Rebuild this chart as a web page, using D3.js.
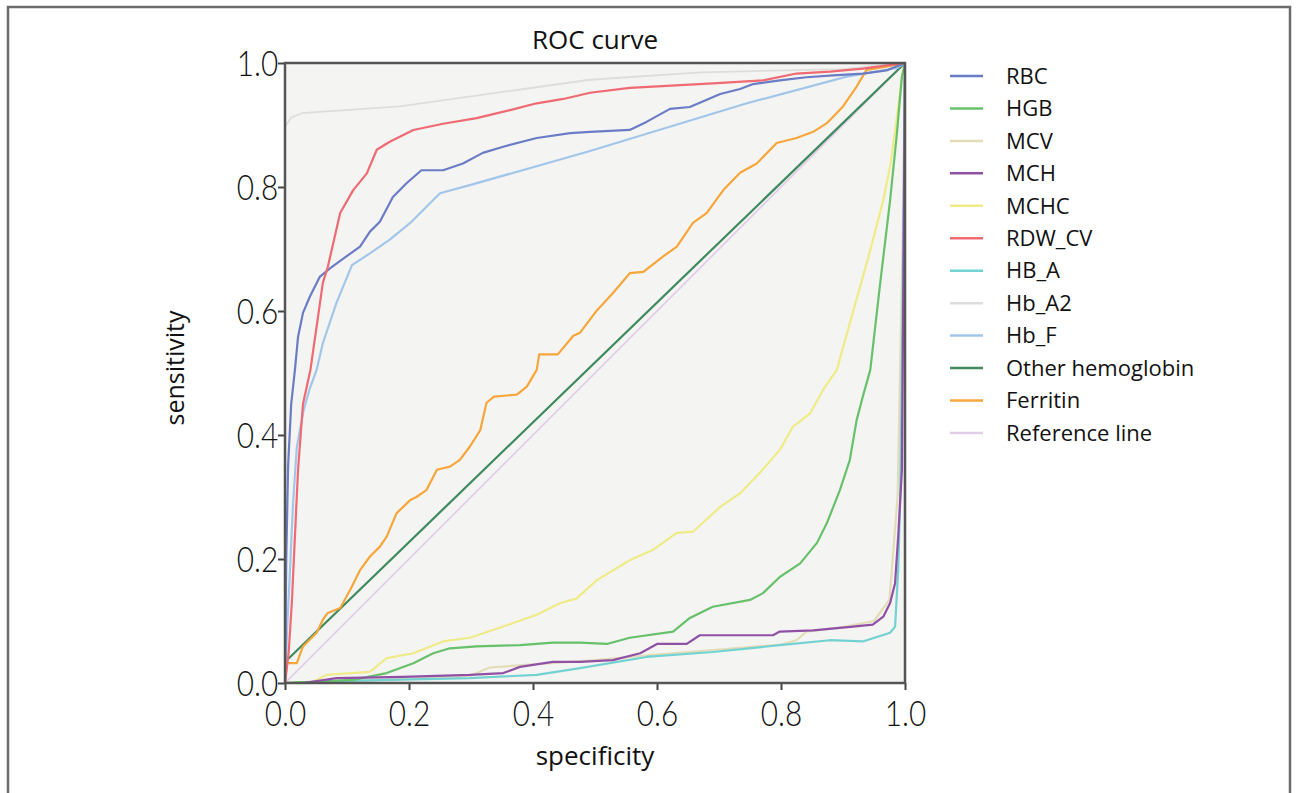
<!DOCTYPE html>
<html>
<head>
<meta charset="utf-8">
<script src="https://cdn.jsdelivr.net/npm/d3@7"></script>
<style>
  body { margin: 0; background: #fff; }
  .tick text { font-family: Lato, "DejaVu Sans", sans-serif; font-weight: 300; }
</style>
</head>
<body>
<script>
// series names, in legend order
var seriesNames = ["RBC", "HGB", "MCV", "MCH", "MCHC", "RDW_CV", "HB_A", "Hb_A2", "Hb_F", "Other hemoglobin", "Ferritin", "Reference line"];
var seriesColors = ["#6a7cc6", "#67c06a", "#e2dcb8", "#9050a6", "#efeb88", "#ef6a72", "#72d2d2", "#dedddd", "#a2c6ea", "#3f8a5e", "#f6a63a", "#e2cde8"];

// [1 - specificity axis value, sensitivity]
var rbc = [[0,0],[0.002,0.2],[0.005,0.35],[0.01,0.45],[0.016,0.505],[0.021,0.558],[0.029,0.597],[0.04,0.623],[0.056,0.655],[0.073,0.669],[0.099,0.688],[0.121,0.704],[0.137,0.728],[0.153,0.744],[0.174,0.784],[0.196,0.806],[0.22,0.827],[0.255,0.827],[0.287,0.838],[0.319,0.855],[0.352,0.865],[0.406,0.879],[0.46,0.887],[0.492,0.889],[0.556,0.892],[0.583,0.905],[0.621,0.926],[0.653,0.929],[0.702,0.95],[0.734,0.958],[0.755,0.966],[0.798,0.972],[0.841,0.977],[0.884,0.98],[0.932,0.983],[0.97,0.988],[1,1]];
var hgb = [[0,0],[0.11,0.005],[0.164,0.016],[0.207,0.032],[0.239,0.048],[0.266,0.056],[0.309,0.059],[0.379,0.061],[0.432,0.065],[0.476,0.065],[0.519,0.063],[0.556,0.073],[0.626,0.083],[0.653,0.105],[0.69,0.123],[0.75,0.134],[0.771,0.145],[0.798,0.171],[0.831,0.193],[0.858,0.226],[0.874,0.258],[0.895,0.311],[0.911,0.36],[0.922,0.424],[0.932,0.462],[0.944,0.505],[0.96,0.645],[0.976,0.779],[0.987,0.887],[0.995,0.978],[1,1]];
var mcv = [[0,0],[0.1,0.003],[0.2,0.007],[0.3,0.012],[0.33,0.025],[0.4,0.03],[0.5,0.037],[0.6,0.046],[0.7,0.054],[0.8,0.062],[0.825,0.069],[0.841,0.083],[0.9,0.09],[0.95,0.1],[0.975,0.135],[0.988,0.3],[0.996,0.7],[1,1]];
var mch = [[0,0],[0.03,0],[0.083,0.008],[0.19,0.01],[0.298,0.013],[0.352,0.016],[0.379,0.026],[0.432,0.034],[0.476,0.034],[0.529,0.037],[0.573,0.048],[0.6,0.063],[0.648,0.063],[0.669,0.077],[0.787,0.077],[0.798,0.083],[0.852,0.085],[0.916,0.091],[0.948,0.094],[0.965,0.107],[0.976,0.129],[0.984,0.161],[0.989,0.236],[0.995,0.344],[0.997,0.6],[1,1]];
var mchc = [[0,0],[0.045,0.002],[0.067,0.013],[0.137,0.018],[0.164,0.04],[0.207,0.048],[0.255,0.067],[0.298,0.073],[0.352,0.091],[0.406,0.11],[0.444,0.129],[0.47,0.136],[0.503,0.166],[0.556,0.198],[0.594,0.215],[0.632,0.242],[0.658,0.244],[0.702,0.284],[0.734,0.306],[0.766,0.339],[0.798,0.376],[0.819,0.413],[0.847,0.435],[0.868,0.473],[0.89,0.505],[0.944,0.698],[0.965,0.779],[0.976,0.833],[0.987,0.913],[0.995,0.978],[1,1]];
var rdwCv = [[0,0],[0.006,0.05],[0.011,0.129],[0.021,0.343],[0.029,0.45],[0.041,0.505],[0.061,0.645],[0.069,0.671],[0.089,0.758],[0.11,0.795],[0.132,0.822],[0.148,0.86],[0.169,0.873],[0.207,0.892],[0.255,0.902],[0.309,0.911],[0.363,0.924],[0.406,0.935],[0.449,0.942],[0.492,0.952],[0.556,0.96],[0.69,0.967],[0.771,0.972],[0.825,0.983],[0.879,0.986],[0.932,0.991],[1,1]];
var hbA = [[0,0],[0.083,0.003],[0.298,0.008],[0.406,0.013],[0.476,0.024],[0.583,0.042],[0.69,0.05],[0.798,0.061],[0.879,0.069],[0.932,0.067],[0.976,0.081],[0.984,0.091],[0.989,0.182],[0.992,0.29],[0.995,0.5],[1,1]];
var hbA2 = [[0,0.897],[0.01,0.912],[0.027,0.919],[0.185,0.93],[0.492,0.973],[0.67,0.985],[0.9,0.99],[1,1]];
var hbF = [[0,0],[0.004,0.1],[0.008,0.18],[0.013,0.29],[0.019,0.38],[0.03,0.44],[0.04,0.475],[0.051,0.505],[0.061,0.548],[0.083,0.613],[0.108,0.674],[0.137,0.693],[0.169,0.715],[0.202,0.742],[0.223,0.763],[0.25,0.79],[0.298,0.803],[0.492,0.858],[0.745,0.935],[0.906,0.978],[0.987,0.992],[1,1]];
var otherHb = [[0,0],[0,0.034],[1,1]];
var ferritin = [[0,0],[0.003,0.032],[0.019,0.032],[0.029,0.059],[0.035,0.065],[0.051,0.081],[0.061,0.102],[0.069,0.113],[0.089,0.121],[0.105,0.15],[0.121,0.182],[0.137,0.204],[0.153,0.22],[0.164,0.236],[0.18,0.274],[0.202,0.295],[0.212,0.3],[0.228,0.311],[0.245,0.344],[0.266,0.349],[0.282,0.36],[0.298,0.381],[0.315,0.408],[0.325,0.452],[0.337,0.462],[0.374,0.465],[0.39,0.478],[0.406,0.505],[0.41,0.53],[0.44,0.53],[0.465,0.56],[0.476,0.565],[0.503,0.601],[0.529,0.629],[0.556,0.661],[0.578,0.663],[0.61,0.688],[0.632,0.704],[0.658,0.742],[0.68,0.758],[0.707,0.795],[0.734,0.823],[0.761,0.838],[0.793,0.871],[0.825,0.879],[0.852,0.889],[0.874,0.903],[0.9,0.93],[0.922,0.962],[0.938,0.989],[0.97,0.994],[1,1]];
var refLine = [[0,0],[1,1]];

var seriesData = [rbc, hgb, mcv, mch, mchc, rdwCv, hbA, hbA2, hbF, otherHb, ferritin, refLine];
var tickValues = [0, 0.2, 0.4, 0.6, 0.8, 1.0];

var w = 1297;
var h = 793;

var svg = d3.select("body")
    .append("svg")
    .attr("width", w)
    .attr("height", h);

// outer frame (bottom edge runs off the picture)
svg.append("path")
    .attr("d", "M8,800 L8,7 L1290,7 L1290,800")
    .attr("fill", "none")
    .attr("stroke", "#6b6b6b")
    .attr("stroke-width", 2.5);

var x = d3.scaleLinear().domain([0, 1]).range([285, 905]);
var y = d3.scaleLinear().domain([0, 1]).range([683, 63]);

// plot background
svg.append("rect")
    .attr("x", x(0))
    .attr("y", y(1))
    .attr("width", x(1) - x(0))
    .attr("height", y(0) - y(1))
    .style("fill", "#f4f4f2");

svg.append("clipPath").attr("id", "plotclip")
  .append("rect")
    .attr("x", x(0))
    .attr("y", y(1) - 1)
    .attr("width", x(1) - x(0))
    .attr("height", y(0) - y(1) + 1);

var line = d3.line()
    .x(function(d){ return x(d[0]); })
    .y(function(d){ return y(d[1]); });

// draw the light lines first, the strong ones on top
var drawOrder = [11, 7, 2, 9, 6, 4, 1, 3, 8, 10, 0, 5];
svg.append("g")
    .attr("clip-path", "url(#plotclip)")
  .selectAll(".roc")
    .data(drawOrder)
    .enter()
    .append("path")
    .attr("class", "roc")
    .attr("d", function(i){ return line(seriesData[i]); })
    .attr("fill", "none")
    .attr("stroke", function(i){ return seriesColors[i]; })
    .attr("stroke-width", function(i){ return (i === 7 || i === 11) ? 1.8 : 2.2; })
    .attr("stroke-linejoin", "round");

// axes
var xAxis = svg.append("g")
    .attr("transform", "translate(0," + y(0) + ")")
    .call(d3.axisBottom(x).tickValues(tickValues).tickFormat(d3.format(".1f")).tickSize(7).tickSizeOuter(0));
var yAxis = svg.append("g")
    .attr("transform", "translate(" + x(0) + ",0)")
    .call(d3.axisLeft(y).tickValues(tickValues).tickFormat(d3.format(".1f")).tickSize(7).tickSizeOuter(0));

[xAxis, yAxis].forEach(function(g){
  g.select(".domain").remove();
  g.selectAll(".tick line").attr("stroke", "#444").attr("stroke-width", 2);
  // narrow, light digits like the original
  g.selectAll(".tick text").attr("fill", "#111").style("font-size", "35px").attr("transform", "scale(0.85,1)");
});
xAxis.selectAll(".tick text").attr("dy", "0.95em").attr("y", 10);
yAxis.selectAll(".tick text").attr("x", -8).attr("dy", "0.36em");

// plot frame
svg.append("rect")
    .attr("x", x(0))
    .attr("y", y(1))
    .attr("width", x(1) - x(0))
    .attr("height", y(0) - y(1))
    .attr("fill", "none")
    .attr("stroke", "#555")
    .attr("stroke-width", 2.5);

var labelFont = "'Open Sans', Lato, sans-serif";

svg.append("text")
    .attr("x", (x(0) + x(1)) / 2)
    .attr("y", 49)
    .attr("text-anchor", "middle")
    .style("font-family", labelFont)
    .style("font-size", "26px")
    .style("fill", "#111")
    .text("ROC curve");

svg.append("text")
    .attr("x", (x(0) + x(1)) / 2)
    .attr("y", 765)
    .attr("text-anchor", "middle")
    .style("font-family", labelFont)
    .style("font-size", "26px")
    .style("fill", "#111")
    .text("specificity");

svg.append("text")
    .attr("transform", "translate(184," + 368 + ") rotate(-90)")
    .attr("text-anchor", "middle")
    .style("font-family", labelFont)
    .style("font-size", "25px")
    .style("fill", "#111")
    .text("sensitivity");

// legend
var legend = svg.selectAll(".legend")
    .data(seriesNames)
    .enter()
    .append("g")
    .attr("class", "legend")
    .attr("transform", function(d, i){ return "translate(950," + (76 + i * 32.45) + ")"; });

legend.append("line")
    .attr("x1", 0)
    .attr("x2", 33)
    .attr("stroke", function(d, i){ return seriesColors[i]; })
    .attr("stroke-width", 2.5);

legend.append("text")
    .attr("x", 56)
    .attr("dy", "0.35em")
    .style("font-family", labelFont)
    .style("font-size", "22px")
    .style("fill", "#111")
    .text(function(d){ return d; });
</script>
</body>
</html>
